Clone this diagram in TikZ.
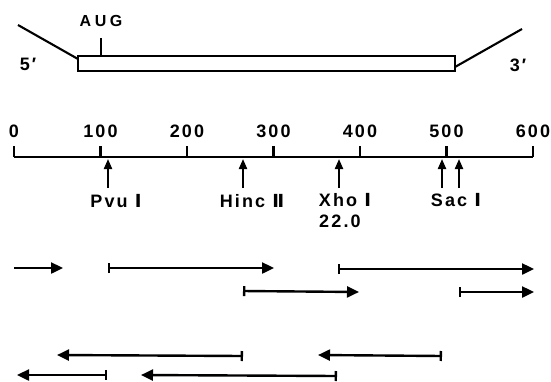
\documentclass[tikz,border=0pt]{standalone}
\usepackage{fontspec}
\setmainfont{Liberation Sans}[BoldFont={* Bold},LetterSpace=12]
\newfontfamily\romfont{DejaVu Sans}[BoldFont={* Bold}]
\usetikzlibrary{arrows.meta}
\tikzset{
  lbl/.style={font=\bfseries\fontsize{18}{20}\selectfont, inner sep=0pt},
  thinline/.style={line width=2.1pt},
  axisline/.style={line width=2.3pt},
  site/.style={line width=2.1pt, -{Triangle[length=10pt,width=8pt]}},
  seq/.style={line width=2.4pt, -{Triangle[length=12pt,width=11pt]}},
  seqbar/.style={line width=2.4pt, {Bar[width=10pt,line width=2.4pt]}-{Triangle[length=12pt,width=11pt]}},
  rseqbar/.style={line width=2.4pt, {Triangle[length=12pt,width=11pt]}-{Bar[width=10pt,line width=2.4pt]}}
}
\begin{document}
\begin{tikzpicture}[x=1pt,y=-1pt]
\useasboundingbox (0,0) rectangle (551,381);
% mRNA
\coordinate (bnw) at (78,56);
\coordinate (bse) at (455,71);
\draw[thinline] (bnw) rectangle (bse);
\coordinate (l5) at (18,25);
\coordinate (l5e) at (78,59);
\coordinate (r3) at (522,29);
\coordinate (r3e) at (455,67);
\draw[thinline] (l5) -- (l5e);
\draw[thinline] (r3) -- (r3e);
\coordinate (augb) at (101,56);
\coordinate (augt) at (101,38);
\draw[thinline] (augb) -- (augt);
\node[lbl, font=\bfseries\fontsize{16}{18}\selectfont\addfontfeature{LetterSpace=22}] (aug) at (101,21) {AUG};
\node[lbl] (p5) at (28,64) {5′};
\node[lbl] (p3) at (518,65) {3′};
% axis
\coordinate (a0) at (14,157);
\coordinate (a6) at (533,157);
\draw[axisline] (a0) -- (a6);
\foreach \k in {0,...,6}{
  \coordinate (t\k) at ({14+86.5*\k},157);
  \draw[axisline] (t\k) -- ++(0,-11);
  \node[lbl] (n\k) at ({14+86.5*\k},131) {\pgfmathparse{int(100*\k)}\pgfmathresult};
}
% sites
\foreach \nm/\x in {pvu/108, hinc/243, xho/339, saca/442, sacb/459}{
  \coordinate (\nm b) at (\x,188);
  \coordinate (\nm t) at (\x,159);
  \draw[site] (\nm b) -- (\nm t);
}
\node[lbl] (lpvu) at (116,201) {Pvu {\romfont Ⅰ}};
\node[lbl] (lhinc) at (252,201) {Hinc {\romfont Ⅱ}};
\node[lbl] (lxho) at (345,200) {Xho {\romfont Ⅰ}};
\node[lbl] (lxnum) at (340,221) {22.0};
\node[lbl] (lsac) at (456,200) {Sac {\romfont Ⅰ}};
% sequencing arrows
\coordinate (s1a) at (14,268); \coordinate (s1b) at (63,268);
\coordinate (s2a) at (108,268); \coordinate (s2b) at (274,268);
\coordinate (s3a) at (338,269); \coordinate (s3b) at (534,269);
\coordinate (s4a) at (243,291); \coordinate (s4b) at (359,292);
\coordinate (s5a) at (459,292); \coordinate (s5b) at (534,292);
\coordinate (s6a) at (57,355); \coordinate (s6b) at (243,356);
\coordinate (s7a) at (318,355); \coordinate (s7b) at (442,356);
\coordinate (s8a) at (17,375); \coordinate (s8b) at (107,375);
\coordinate (s9a) at (141,375); \coordinate (s9b) at (337,376);
\draw[seq] (s1a) -- (s1b);
\draw[seqbar] (s2a) -- (s2b);
\draw[seqbar] (s3a) -- (s3b);
\draw[seqbar] (s4a) -- (s4b);
\draw[seqbar] (s5a) -- (s5b);
\draw[rseqbar] (s6a) -- (s6b);
\draw[rseqbar] (s7a) -- (s7b);
\draw[rseqbar] (s8a) -- (s8b);
\draw[rseqbar] (s9a) -- (s9b);
\end{tikzpicture}
\end{document}
